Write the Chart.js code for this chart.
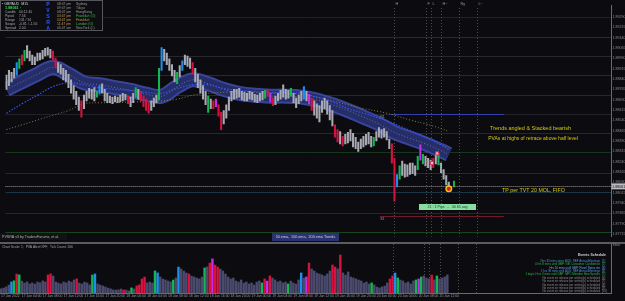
<!DOCTYPE html>
<html>
<head>
<meta charset="utf-8">
<script src="https://cdn.jsdelivr.net/npm/chart.js@4.4.0/dist/chart.umd.min.js"></script>
<style>
  html, body { margin: 0; padding: 0; background: #0b0b10; overflow: hidden; }
  #wrap { position: relative; width: 625px; height: 301px; }
  canvas { position: absolute; left: 0; }
  #main { top: 0; }
  #vol { top: 242px; }
</style>
</head>
<body>
<div id="wrap">
  <canvas id="main" width="625" height="242"></canvas>
  <canvas id="vol" width="625" height="59"></canvas>
</div>
<script>
// GBPAUD, 30 min bars from 17 Jan 2022 00:00 (bar index j)
const hi = [
  1.88868,1.88902,1.88888,1.88916,1.88958,1.88985,1.89013,1.89048,1.89082,1.89041,
  1.89013,1.88999,1.89027,1.89027,1.89048,1.89061,1.89068,1.89054,1.89041,1.88992,
  1.88958,1.88944,1.88916,1.88902,1.88874,1.88833,1.88791,1.88750,1.88708,1.88681,
  1.88722,1.88750,1.88771,1.88764,1.88777,1.88750,1.88791,1.88805,1.88764,1.88736,
  1.88715,1.88708,1.88715,1.88708,1.88722,1.88736,1.88729,1.88715,1.88708,1.88736,
  1.88777,1.88764,1.88750,1.88715,1.88694,1.88667,1.88681,1.88701,1.88722,1.88916,
  1.89068,1.89054,1.89027,1.88985,1.88944,1.88902,1.88888,1.88937,1.88971,1.89013,
  1.89006,1.88992,1.88958,1.88916,1.88874,1.88833,1.88791,1.88750,1.88715,1.88694,
  1.88681,1.88694,1.88653,1.88597,1.88611,1.88653,1.88708,1.88750,1.88764,1.88764,
  1.88771,1.88750,1.88743,1.88736,1.88750,1.88743,1.88729,1.88722,1.88736,1.88750,
  1.88757,1.88764,1.88736,1.88701,1.88715,1.88736,1.88757,1.88798,1.88764,1.88757,
  1.88771,1.88736,1.88701,1.88722,1.88750,1.88784,1.88750,1.88729,1.88701,1.88681,
  1.88660,1.88646,1.88681,1.88701,1.88681,1.88646,1.88611,1.88507,1.88473,1.88459,
  1.88424,1.88438,1.88452,1.88473,1.88445,1.88417,1.88383,1.88404,1.88424,1.88438,
  1.88452,1.88424,1.88417,1.88459,1.88487,1.88473,1.88480,1.88459,1.88404,1.88369,
  1.88265,1.88147,1.88210,1.88244,1.88223,1.88217,1.88230,1.88230,1.88210,1.88279,
  1.88362,1.88293,1.88279,1.88265,1.88251,1.88265,1.88286,1.88300,1.88230,1.88182,
  1.88140,1.88092
];
const lo = [
  1.88764,1.88791,1.88819,1.88847,1.88868,1.88916,1.88944,1.88971,1.88992,1.88971,
  1.88944,1.88944,1.88971,1.88978,1.88985,1.89006,1.89013,1.88992,1.88978,1.88923,
  1.88888,1.88874,1.88833,1.88819,1.88777,1.88736,1.88694,1.88653,1.88611,1.88563,
  1.88625,1.88681,1.88701,1.88694,1.88681,1.88708,1.88729,1.88736,1.88681,1.88667,
  1.88667,1.88660,1.88674,1.88667,1.88674,1.88681,1.88687,1.88660,1.88639,1.88667,
  1.88708,1.88694,1.88681,1.88639,1.88611,1.88591,1.88611,1.88639,1.88667,1.88687,
  1.88902,1.88971,1.88944,1.88902,1.88861,1.88819,1.88805,1.88854,1.88902,1.88944,
  1.88930,1.88916,1.88874,1.88819,1.88777,1.88736,1.88694,1.88653,1.88597,1.88625,
  1.88625,1.88639,1.88570,1.88473,1.88514,1.88556,1.88611,1.88681,1.88694,1.88701,
  1.88708,1.88687,1.88681,1.88681,1.88694,1.88687,1.88674,1.88667,1.88681,1.88687,
  1.88701,1.88715,1.88674,1.88646,1.88653,1.88681,1.88694,1.88708,1.88694,1.88701,
  1.88715,1.88667,1.88632,1.88660,1.88681,1.88694,1.88681,1.88660,1.88611,1.88577,
  1.88556,1.88528,1.88597,1.88625,1.88584,1.88542,1.88500,1.88417,1.88383,1.88369,
  1.88355,1.88369,1.88376,1.88390,1.88348,1.88334,1.88314,1.88334,1.88348,1.88362,
  1.88369,1.88348,1.88355,1.88390,1.88417,1.88410,1.88417,1.88397,1.88334,1.88230,
  1.87953,1.88057,1.88113,1.88140,1.88127,1.88133,1.88147,1.88154,1.88140,1.88182,
  1.88251,1.88223,1.88210,1.88196,1.88182,1.88196,1.88223,1.88217,1.88161,1.88113,
  1.88071,1.88037
];
const volume = [
  210,248,305,396,552,610,948,905,596,498,
  556,452,503,447,548,512,604,553,902,955,
  846,548,497,452,553,505,598,546,652,705,
  496,452,547,503,404,897,952,455,398,352,
  302,247,205,152,148,156,198,152,147,104,
  254,203,352,404,702,796,502,548,497,1104,
  1003,802,697,653,598,552,648,752,1296,1204,
  1097,1002,953,847,803,748,702,797,1253,1302,
  1497,1706,1398,1303,1196,1102,952,798,702,748,
  603,548,652,497,552,452,503,402,547,602,
  502,703,598,852,748,653,552,597,503,548,
  452,598,503,447,652,1002,748,803,1497,1203,
  1102,997,953,902,848,953,1098,1402,1297,1203,
  1902,1003,897,1052,798,753,702,648,603,497,
  552,447,503,402,298,253,302,348,502,703,
  852,997,752,648,603,497,552,447,603,652,
  702,797,853,748,703,898,652,852,703,748,
  803,902
];

// PVSRA vector bars
const blueBars = [4,36,60,68,115,151];
const greenBars = [5,7,35,50,59,66,78,100,110,142,152,159,161,167];
const redBars = [6,18,19,29,47,52,53,54,55,72,80,82,83,101,103,118,127,128,130,149,150,165];
const magentaBars = [81,102,117,160];

// moving averages, sampled
const emaIdx = [0,6,12,18,24,30,36,42,48,54,60,66,72,78,84,90,96,102,108,114,120,126,132,138,144,150,156,162,168,171];
const ema50 = [1.88764,1.88819,1.88874,1.88923,1.88874,1.88812,1.88798,1.88777,1.88757,1.88729,1.88715,1.88784,1.88833,1.88805,1.88764,1.88736,1.88722,1.88715,1.88715,1.88708,1.88687,1.88653,1.88611,1.88563,1.88514,1.88452,1.88410,1.88369,1.88320,1.88293];
const ema100 = [1.88591,1.88660,1.88722,1.88784,1.88812,1.88798,1.88777,1.88764,1.88757,1.88743,1.88736,1.88771,1.88798,1.88798,1.88771,1.88757,1.88750,1.88743,1.88743,1.88736,1.88708,1.88674,1.88625,1.88591,1.88556,1.88514,1.88466,1.88417,1.88362,1.88327];
const ema200 = [1.88473,1.88507,1.88542,1.88577,1.88611,1.88660,1.88667,1.88667,1.88674,1.88674,1.88681,1.88694,1.88722,1.88736,1.88743,1.88750,1.88743,1.88736,1.88736,1.88729,1.88708,1.88681,1.88653,1.88625,1.88604,1.88577,1.88542,1.88514,1.88480,1.88459];

const priceTicks = ['1.89290','1.89215','1.89140','1.89065','1.88990','1.88915','1.88840','1.88765','1.88690','1.88615','1.88540','1.88465','1.88390','1.88315','1.88240','1.88165','1.88090','1.88015','1.87940','1.87865','1.87790','1.87715'];
const timeIdx = [0,8,16,24,32,40,48,56,64,72,80,88,96,104,112,120,128,136,144,152,160,168];
const timeLabels = ['17 Jan 2022','17 Jan 04:00','17 Jan 08:00','17 Jan 12:00','17 Jan 16:00','17 Jan 20:00','18 Jan 00:00','18 Jan 04:00','18 Jan 08:00','18 Jan 12:00','18 Jan 16:00','18 Jan 20:00','19 Jan 00:00','19 Jan 04:00','19 Jan 08:00','19 Jan 12:00','19 Jan 16:00','19 Jan 20:00','20 Jan 00:00','20 Jan 04:00','20 Jan 08:00','20 Jan 12:00'];

const levelPrices = [1.89290,1.89145,1.89006,1.88868,1.88722,1.88584,1.88445,1.88307,1.88161,1.88023,1.87870,1.87732];
const levelColors = ['#222226','#1c2850','#28282c','#163619','#28282c','#222228','#28282c','#163619','#28282c','#1b3446','#28282c','#184420'];

const pivotNames = ['R1','S1'];
const pivotPrices = [1.88584, 1.87843];
const pivotStart = [148.5, 144.3];
const pivotEnd = [192.3, 192.3];
const pivotColors = ['#3442a8', '#6e1c2a'];

const sessionNames = ['H','F','L','H~','Ny','L~'];
const sessionIdx = [150,162,164,168,175,182];

const lastPrice = 1.88061;
const signalIdx = [164.5, 166.5];
const signalPrice = [1.88230, 1.88300];
const tpPathIdx = [167, 171];
const tpPathPrice = [1.88244, 1.88050];
const targetIdx = 171, targetPrice = 1.88043;
const nextIdx = 173, nextRange = [1.88057, 1.88099];

const events = [
  ['2hrs 33 mins since AUD: RBF AnnualMeetings', '[1]', '#4f8fd8'],
  ['0 hrs 8 mins until GBP: GfK Consumer Confidence', '[2]', '#2fb44e'],
  ['Hrs 16 mins until GBP: Panel Rates ntn', '[3]', '#6aa8e8'],
  ['2 hrs 38 mins until AUD: RBF AnnualMeetings', '[4]', '#4f8fd8'],
  ['1 days 0 hrs 3 mins until GBP: MPC Member Haw Speaks', '[5]', '#2fb44e'],
  ['No event on release per setting(s) scheduled', '[6]', '#8c8c8c'],
  ['No event on release per setting(s) scheduled', '[7]', '#8c8c8c'],
  ['No event on release per setting(s) scheduled', '[8]', '#8c8c8c'],
  ['No event on release per setting(s) scheduled', '[9]', '#8c8c8c'],
  ['No event on release per setting(s) scheduled', '[10]', '#8c8c8c']
];

const X_MIN = -0.38, X_MAX = 233.7;
const Y_MIN = 1.87697, Y_MAX = 1.89373;
const FONT = '"Liberation Sans", Arial, sans-serif';
Chart.defaults.font.family = FONT;

function colorFor(j, base) {
  if (blueBars.includes(j)) return '#1e8fea';
  if (greenBars.includes(j)) return '#16b552';
  if (redBars.includes(j)) return '#d8123e';
  if (magentaBars.includes(j)) return '#c42ee8';
  return base;
}

function txt(ctx, s, x, y, size, color, align, weight) {
  ctx.font = (weight || '') + ' ' + size + 'px ' + FONT;
  ctx.fillStyle = color;
  ctx.textAlign = align || 'left';
  ctx.textBaseline = 'middle';
  ctx.fillText(s, x, y);
}
function fitTxt(ctx, s, cx, cy, w, color) {
  ctx.font = '10px ' + FONT;
  const size = 10 * w / ctx.measureText(s).width;
  txt(ctx, s, cx, cy, size, color, 'center');
}

const pts = arr => arr.map((v, k) => ({x: emaIdx[k], y: v}));

const mainDecor = {
  id: 'mainDecor',
  beforeDatasetsDraw(chart) {
    const {ctx, chartArea: a, scales: {x, y}} = chart;
    ctx.save();
    ctx.lineWidth = 1;
    levelPrices.forEach((p, i) => {
      const yy = Math.round(y.getPixelForValue(p)) + 0.5;
      ctx.strokeStyle = levelColors[i];
      ctx.beginPath(); ctx.moveTo(a.left, yy); ctx.lineTo(a.right, yy); ctx.stroke();
    });
    ctx.setLineDash([1, 2]);
    ctx.strokeStyle = '#4c4c52';
    sessionIdx.forEach(j => {
      const xx = Math.round(x.getPixelForValue(j)) + 0.5;
      ctx.beginPath(); ctx.moveTo(xx, 8); ctx.lineTo(xx, a.bottom); ctx.stroke();
    });
    ctx.setLineDash([1, 1]);
    ctx.strokeStyle = '#9c9c9c';
    const by = Math.round(y.getPixelForValue(lastPrice)) + 0.5;
    ctx.beginPath(); ctx.moveTo(a.left, by); ctx.lineTo(a.right, by); ctx.stroke();
    ctx.setLineDash([]);
    pivotPrices.forEach((p, i) => {
      const yy = Math.round(y.getPixelForValue(p)) + 0.5;
      ctx.strokeStyle = pivotColors[i];
      ctx.beginPath();
      ctx.moveTo(x.getPixelForValue(pivotStart[i]), yy);
      ctx.lineTo(x.getPixelForValue(pivotEnd[i]), yy);
      ctx.stroke();
    });
    ctx.restore();
  },
  afterDraw(chart) {
    const {ctx, scales: {x, y}} = chart;
    ctx.save();
    pivotNames.forEach((n, i) => {
      txt(ctx, n, x.getPixelForValue(144.5), y.getPixelForValue(pivotPrices[i]) + 2.5, 3.6, '#9a9a9a');
    });
    sessionNames.forEach((n, i) => {
      txt(ctx, n, Math.round(x.getPixelForValue(sessionIdx[i])) + 1.5, 4, 3.8, '#9a9a9a');
    });

    fitTxt(ctx, 'Trends angled & Stacked bearish', 530.5, 128, 81, '#d2c814');
    fitTxt(ctx, 'PVAs at highs of retrace above half level', 533, 139, 90, '#d2c814');
    fitTxt(ctx, 'TP per TVT 20 MOL, FIFO', 533.5, 191, 63, '#d2c814');

    ctx.fillStyle = '#88dca2';
    ctx.fillRect(419, 204, 57, 6);
    txt(ctx, '21 : 1 Pips   -   40 65 avg', 447.5, 207.2, 3.6, '#1c3a24', 'center');

    // bid price on axis
    const by = y.getPixelForValue(lastPrice);
    ctx.fillStyle = '#bcbcbc';
    ctx.fillRect(611.5, by - 3, 13.5, 6);
    txt(ctx, lastPrice.toFixed(5), 612.3, by + 0.2, 3.6, '#111');

    // bottom-left captions
    ctx.fillStyle = '#121216';
    ctx.fillRect(0, 233, 67, 7);
    txt(ctx, 'PVSRA v3 by TradersForums, et al.', 2, 236.6, 3.6, '#b4b4b4');
    ctx.fillStyle = '#2a3272';
    ctx.fillRect(272, 233, 67, 8);
    txt(ctx, '50 ema,  100 ema,  200 ema Trends', 305.5, 237, 3.7, '#cfd0e0', 'center');

    // info panel
    ctx.fillStyle = '#0d0d12';
    ctx.fillRect(0, 0, 103, 31);
    ctx.strokeStyle = '#56565c';
    ctx.lineWidth = 1;
    ctx.strokeRect(0.5, 0.5, 102, 30);
    const rowY = [3.6, 7.6, 11.6, 15.6, 19.6, 23.6, 27.6];
    txt(ctx, '\u25aa GBPAUD  M15', 2, rowY[0], 3.6, '#d8d8d8');
    txt(ctx, '1.88061 \u2191', 5, rowY[1], 3.8, '#2ee04a', 'left', 'bold');
    const lab = ['Candle', 'Pipval', 'Range', 'Swaps', 'Spread'];
    const val = ['00:12:45', '7.56', '131 / 94', '-0.81 / -1.56', '2.00'];
    lab.forEach((s, i) => {
      txt(ctx, s, 5, rowY[i + 2], 3.4, '#a8a8a8');
      txt(ctx, val[i], 19, rowY[i + 2], 3.4, '#a8a8a8');
    });
    ['P', 'V', 'S', 'R', 'A'].forEach((s, i) => txt(ctx, s, 48, 5 + i * 5.8, 5.2, '#3058ff', 'center', 'bold'));
    const times = ['08:47 pm', '09:47 pm', '08:47 pm', '03:47 pm', '04:47 pm', '11:47 pm', '06:47 am'];
    const tcol = ['#9a9a9a', '#9a9a9a', '#9a9a9a', '#c89a4e', '#c89a4e', '#c89a4e', '#9a9a9a'];
    const city = ['Sydney', 'Tokyo', 'HongKong', 'Frankfurt (O)', 'Frankfurt', 'London (O)', 'NewYork (L)'];
    const ccol = ['#9a9a9a', '#9a9a9a', '#9a9a9a', '#34c046', '#c89a4e', '#34c046', '#9a9a9a'];
    times.forEach((s, i) => {
      txt(ctx, s, 57, rowY[i], 3.4, tcol[i]);
      txt(ctx, city[i], 76, rowY[i], 3.4, ccol[i]);
    });
    ctx.restore();
  }
};

new Chart(document.getElementById('main'), {
  type: 'bar',
  data: {
    datasets: [
      {
        type: 'bar', data: hi.map((h, j) => ({x: j, y: [lo[j], h]})),
        backgroundColor: hi.map((_, j) => colorFor(j, '#a9a9b4')),
        barThickness: 1.4, borderWidth: 0, borderSkipped: false, grouped: false, order: 1
      },
      {
        type: 'bar', data: [{x: nextIdx, y: nextRange}], backgroundColor: '#22d24a',
        barThickness: 1, borderWidth: 0, grouped: false, order: 0
      },
      { type: 'line', data: pts(ema50), borderColor: '#38459a', borderWidth: 15, tension: 0.4, pointRadius: 0, borderJoinStyle: 'round', order: 9 },
      { type: 'line', data: pts(ema50), borderColor: '#262e6a', borderWidth: 11, tension: 0.4, pointRadius: 0, borderJoinStyle: 'round', order: 8 },
      { type: 'line', data: pts(ema50), borderColor: '#7c7c98', borderWidth: 0.8, borderDash: [1, 2], tension: 0.4, pointRadius: 0, order: 7 },
      { type: 'line', data: pts(ema100), borderColor: '#3552f2', borderWidth: 1.2, borderDash: [1.5, 1.5], tension: 0.4, pointRadius: 0, order: 6 },
      { type: 'line', data: pts(ema200), borderColor: '#8a8242', borderWidth: 1, borderDash: [1, 2], tension: 0.4, pointRadius: 0, order: 6 },
      {
        type: 'line', data: tpPathIdx.map((j, k) => ({x: j, y: tpPathPrice[k]})),
        borderColor: '#3aa0a0', borderWidth: 0.8, borderDash: [1, 1.5], pointRadius: 0, order: -1
      },
      {
        type: 'line', data: signalIdx.map((j, k) => ({x: j, y: signalPrice[k]})), showLine: false,
        pointStyle: 'rect', pointRadius: 2.2, pointBackgroundColor: '#f2c4d0', pointBorderColor: '#e02a4e', pointBorderWidth: 1, order: -2
      },
      {
        type: 'line', data: [{x: targetIdx, y: targetPrice}], showLine: false,
        pointStyle: 'circle', pointRadius: 2.8, pointBackgroundColor: '#d61f1f', pointBorderColor: '#f2c21a', pointBorderWidth: 1.4, order: -3
      }
    ]
  },
  options: {
    responsive: false, animation: false, devicePixelRatio: 1, events: [],
    layout: {padding: 0},
    plugins: {legend: {display: false}, tooltip: {enabled: false}},
    scales: {
      x: {type: 'linear', display: false, min: X_MIN, max: X_MAX, offset: false},
      y: {
        position: 'right', min: Y_MIN, max: Y_MAX,
        afterFit(s) { s.width = 14; s.paddingTop = 0; s.paddingBottom = 0; },
        afterBuildTicks(s) { s.ticks = priceTicks.map(v => ({value: parseFloat(v)})); },
        ticks: {callback: (v, i) => priceTicks[i], font: {size: 3.6}, color: '#8e8e8e', padding: 1.5, autoSkip: false},
        grid: {display: false, drawTicks: false},
        border: {display: true, color: '#6a6a6a'}
      }
    }
  },
  plugins: [mainDecor]
});

const volDecor = {
  id: 'volDecor',
  beforeDatasetsDraw(chart) {
    const {ctx, chartArea: a, scales: {x}} = chart;
    ctx.save();
    ctx.strokeStyle = '#5c5c60';
    ctx.lineWidth = 2;
    ctx.beginPath(); ctx.moveTo(0, 1); ctx.lineTo(625, 1); ctx.stroke();
    ctx.lineWidth = 1;
    ctx.setLineDash([1, 2]);
    ctx.strokeStyle = '#4c4c52';
    sessionIdx.forEach(j => {
      const xx = Math.round(x.getPixelForValue(j)) + 0.5;
      ctx.beginPath(); ctx.moveTo(xx, a.top); ctx.lineTo(xx, a.bottom); ctx.stroke();
    });
    ctx.restore();
  },
  afterDraw(chart) {
    const {ctx} = chart;
    ctx.save();
    txt(ctx, 'Chart Scale: 1;  PVA Alert OFF;  Tick Count: 206', 2, 5.5, 3.3, '#a8a8a8');
    txt(ctx, 'Slots', 612.5, 3.5, 3.4, '#909090');
    txt(ctx, 'Events Schedule', 606, 13.5, 3.5, '#d4d4d4', 'right', 'bold');
    events.forEach((e, i) => {
      const yy = 19 + i * 3.4;
      txt(ctx, e[0], 600, yy, 2.9, e[2], 'right');
      txt(ctx, e[1], 602, yy, 2.9, e[2]);
    });
    ctx.restore();
  }
};

new Chart(document.getElementById('vol'), {
  type: 'bar',
  data: {
    datasets: [{
      data: volume.map((v, j) => ({x: j, y: v})),
      backgroundColor: volume.map((_, j) => colorFor(j, '#4a4a6c')),
      barThickness: 1.8, borderWidth: 0, borderSkipped: false
    }]
  },
  options: {
    responsive: false, animation: false, devicePixelRatio: 1, events: [],
    layout: {padding: {top: 2, left: 0, right: 0, bottom: 0}},
    plugins: {legend: {display: false}, tooltip: {enabled: false}},
    scales: {
      x: {
        type: 'linear', min: X_MIN, max: X_MAX, offset: false,
        afterFit(s) { s.height = 8; s.paddingLeft = 0; s.paddingRight = 0; },
        afterBuildTicks(s) { s.ticks = timeIdx.map(v => ({value: v})); },
        ticks: {callback: (v, i) => timeLabels[i], align: 'start', maxRotation: 0, autoSkip: false, font: {size: 3.4}, color: '#9c9c9c', padding: 1},
        grid: {display: false, drawTicks: false},
        border: {display: true, color: '#6a6a6a'}
      },
      y: {
        position: 'right', min: 0, max: 2450,
        afterFit(s) { s.width = 14; s.paddingTop = 0; s.paddingBottom = 0; },
        ticks: {display: false},
        grid: {display: false, drawTicks: false},
        border: {display: true, color: '#6a6a6a'}
      }
    }
  },
  plugins: [volDecor]
});
</script>
</body>
</html>
